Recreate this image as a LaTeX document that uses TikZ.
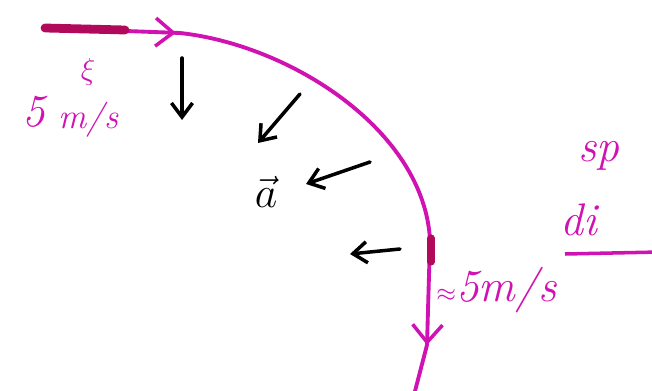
\documentclass[tikz,border=0pt]{standalone}
\usepackage{amsmath,amssymb}
\usepackage{tikz}
\usetikzlibrary{arrows.meta,decorations.markings}

\definecolor{pen}{RGB}{208,18,178}
\definecolor{penDark}{RGB}{178,10,90}

\tikzset{
  path/.style={pen,line width=2.2pt,line cap=round},
  accel/.style={black,line width=2pt,line cap=round,
    -{Straight Barb[length=8pt,width=12pt,line width=2pt]}},
  hand/.style={pen,font=\fontsize{26}{30}\selectfont\itshape,inner sep=0pt}
}

\begin{document}
\begin{tikzpicture}[x=0.02cm,y=-0.02cm]
    \useasboundingbox (0,0) rectangle (652,391);
    % track of the car
    \coordinate (start) at (45,28);
    \coordinate (bend) at (180,33);
    \coordinate (side) at (430,240);
    \coordinate (low) at (427,345);
    \coordinate (exit) at (414,395);
    \draw[path,postaction={decorate},decoration={markings,
        mark=at position 0.97 with {\arrow{Straight Barb[length=10pt,width=16pt,line width=2pt]}}}]
      (start) -- (bend);
    \draw[path] (bend) .. controls (290,45) and (424,130) .. (side);
    \draw[path,postaction={decorate},decoration={markings,
        mark=at position 1 with {\arrow{Straight Barb[length=10pt,width=17pt,line width=2pt]}}}]
      (side) -- (low);
    \draw[path] (low) -- (exit);
    \draw[penDark,line width=5pt,line cap=round] (start) -- (125,30);
    \draw[penDark,line width=4pt,line cap=round] (431,238) -- (431,262);
    % acceleration arrows
    \coordinate (a1) at (182,58);   \coordinate (b1) at (182,120);
    \coordinate (a2) at (300,94);   \coordinate (b2) at (258,143);
    \coordinate (a3) at (370,162);  \coordinate (b3) at (306,184);
    \coordinate (a4) at (400,249);  \coordinate (b4) at (350,254);
    \foreach \i in {1,...,4}
      \draw[accel] (a\i) -- (b\i);
    % labels
    \node[font=\fontsize{26}{28}\selectfont] (acc) at (266,192) {$\vec{a}$};
    \node[hand,anchor=west] (vfive) at (22,112) {5};
    \node[hand,font=\fontsize{20}{22}\selectfont\itshape,anchor=west] (vunit) at (58,120) {m/s};
    \node[hand,font=\fontsize{16}{18}\selectfont] (vsq) at (88,72) {$\xi$};
    \node[hand,anchor=west] (vout) at (436,290) {{\fontsize{14}{16}\selectfont$\approx$}5m/s};
    \node[hand,anchor=west] (sp) at (578,156) {sp};
    \node[hand,anchor=west] (di) at (560,220) {di};
    \draw[pen,line width=2pt] (565,254) -- (660,252);
\end{tikzpicture}
\end{document}
